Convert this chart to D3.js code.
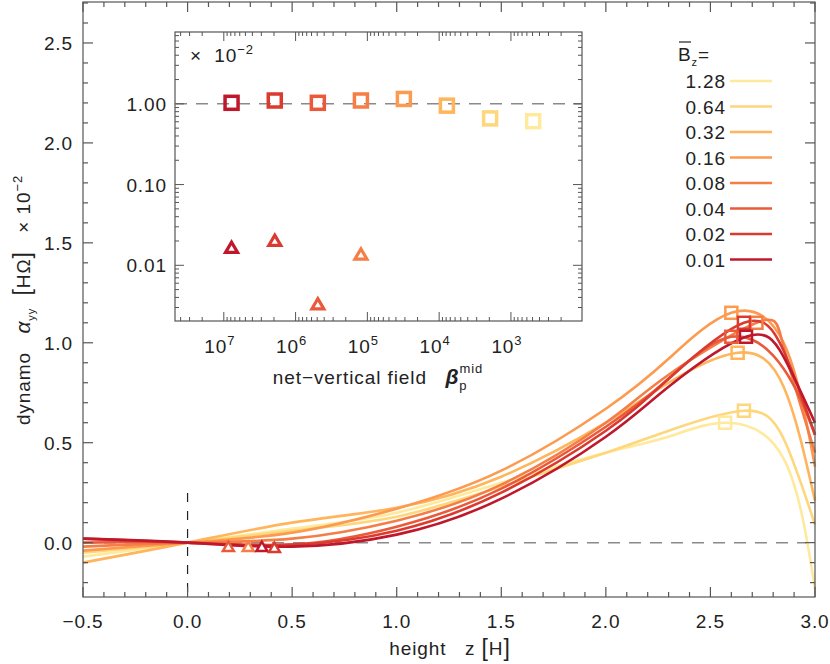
<!DOCTYPE html>
<html lang="en">
<head>
<meta charset="UTF-8">
<title>dynamo alpha</title>
<script src="https://d3js.org/d3.v7.min.js"></script>
<style>
  body { margin: 0; background: #fff; }
  text { font-family: "Liberation Sans", "DejaVu Sans", sans-serif; fill: #222; letter-spacing: 0.9px; }
</style>
</head>
<body>
<svg width="830" height="664"></svg>
<script>
// field strengths, colours
const fields = ["1.28", "0.64", "0.32", "0.16", "0.08", "0.04", "0.02", "0.01"];
const colors = ["#ffe99c", "#fed67c", "#feb55c", "#fc9b50", "#f57d46", "#ea5a3a", "#db3a2f", "#bf182c"];

// sampled heights and alpha values (x 10^-2) for each curve
const zs = [-0.5, 0, 0.5, 1.0, 1.5, 2.0, 2.3, null, 2.85, 3.0];
const peakZ = [2.57, 2.66, 2.63, 2.60, 2.72, 2.60, 2.66, 2.67];
const curves = [
  [-0.07, 0, 0.07, 0.15, 0.30, 0.45, 0.53, 0.60, 0.42, -0.23],
  [-0.05, 0, 0.06, 0.13, 0.28, 0.45, 0.56, 0.66, 0.52, 0.09],
  [-0.10, 0, 0.10, 0.175, 0.33, 0.60, 0.80, 0.95, 0.78, 0.21],
  [-0.04, 0, 0.05, 0.17, 0.36, 0.67, 0.92, 1.15, 1.00, 0.38],
  [-0.02, 0, 0.02, 0.11, 0.29, 0.60, 0.84, 1.10, 0.98, 0.45],
  [0.00, 0, -0.01, 0.08, 0.27, 0.58, 0.82, 1.03, 0.87, 0.54],
  [0.02, 0, -0.01, 0.06, 0.25, 0.56, 0.82, 1.10, 0.96, 0.54],
  [0.02, 0, -0.02, 0.04, 0.22, 0.53, 0.78, 1.03, 0.93, 0.60]
];
// triangles near the origin: [z, alpha, field index]
const triangles = [[0.195, -0.02, 5], [0.29, -0.02, 4], [0.355, -0.02, 7], [0.415, -0.025, 6]];

// inset: beta_p^mid, peak alpha (squares), triangle alpha
const betas = [7.8e6, 1.95e6, 4.9e5, 1.23e5, 3.1e4, 7.8e3, 1.95e3, 4.9e2];
const sqVals = [1.03, 1.10, 1.03, 1.10, 1.15, 0.95, 0.66, 0.61]; // index: 0.01 ... 1.28
const triVals = [0.0166, 0.0202, 0.0033, 0.0137];

const svg = d3.select("svg");
const L = 83, R = 815, T = 2, B = 597;
const x = d3.scaleLinear().domain([-0.5, 3.0]).range([L, R]);
const y = d3.scaleLinear().domain([-0.272, 2.705]).range([B, T]);

// reference lines
svg.append("line").attr("x1", L).attr("x2", R).attr("y1", y(0)).attr("y2", y(0))
  .attr("stroke", "#8a8a8a").attr("stroke-width", 1.5).attr("stroke-dasharray", "12,9");
svg.append("line").attr("x1", x(0)).attr("x2", x(0)).attr("y1", 493).attr("y2", B)
  .attr("stroke", "#222").attr("stroke-width", 1.2).attr("stroke-dasharray", "9,9");

// curves
const line = d3.line().x(d => x(d[0])).y(d => y(d[1])).curve(d3.curveNatural);
curves.forEach((c, i) => {
  const pts = c.map((v, k) => [zs[k] === null ? peakZ[i] : zs[k], v]);
  svg.append("path").attr("d", line(pts)).attr("fill", "none")
    .attr("stroke", colors[i]).attr("stroke-width", 2.6);
});
curves.forEach((c, i) => {
  svg.append("rect").attr("x", x(peakZ[i]) - 6).attr("y", y(c[7]) - 6)
    .attr("width", 12).attr("height", 12).attr("fill", "none")
    .attr("stroke", colors[i]).attr("stroke-width", 2.5);
});
const triPath = (cx, cy, s) => `M${cx - s},${cy + s * 0.8}L${cx},${cy - s * 0.9}L${cx + s},${cy + s * 0.8}Z`;
triangles.forEach(t => {
  svg.append("path").attr("d", triPath(x(t[0]), y(t[1]), 5.5)).attr("fill", "#fff")
    .attr("stroke", colors[t[2]]).attr("stroke-width", 2.5).attr("stroke-linejoin", "miter");
});

// main frame and ticks
const ax = svg.append("g").attr("stroke", "#555").attr("stroke-width", 1.2);
ax.append("rect").attr("x", L).attr("y", T).attr("width", R - L).attr("height", B - T).attr("fill", "none");
d3.range(-0.5, 3.0001, 0.1).forEach(v => {
  const major = Math.abs(v * 2 - Math.round(v * 2)) < 1e-6;
  const len = major ? 10 : 5;
  ax.append("line").attr("x1", x(v)).attr("x2", x(v)).attr("y1", B).attr("y2", B - len);
  ax.append("line").attr("x1", x(v)).attr("x2", x(v)).attr("y1", T).attr("y2", T + len);
});
d3.range(-0.2, 2.7, 0.1).forEach(v => {
  const major = Math.abs(v * 2 - Math.round(v * 2)) < 1e-6;
  const len = major ? 10 : 5;
  ax.append("line").attr("y1", y(v)).attr("y2", y(v)).attr("x1", L).attr("x2", L + len);
  ax.append("line").attr("y1", y(v)).attr("y2", y(v)).attr("x1", R).attr("x2", R - len);
});
d3.range(-0.5, 3.0001, 0.5).forEach(v => {
  svg.append("text").attr("x", x(v)).attr("y", 628).attr("text-anchor", "middle")
    .attr("font-size", 19).text(d3.format(".1f")(v).replace("-", "\u2212"));
});
d3.range(0, 2.51, 0.5).forEach(v => {
  svg.append("text").attr("x", L - 10).attr("y", y(v) + 7).attr("text-anchor", "end")
    .attr("font-size", 19).text(d3.format(".1f")(v));
});
svg.append("text").attr("x", 450).attr("y", 655).attr("text-anchor", "middle").attr("font-size", 19)
  .html('height&#160;&#160; z <tspan font-size="23" dy="1">[</tspan><tspan dy="-1">H</tspan><tspan font-size="23" dy="1">]</tspan>');
svg.append("text").attr("transform", "translate(30,300) rotate(-90)").attr("text-anchor", "middle")
  .attr("font-size", 19)
  .html('dynamo&#160;&#160; <tspan font-style="italic" font-size="21">&#945;</tspan><tspan font-size="11" dy="5">yy</tspan><tspan dy="-5">&#160;&#160;<tspan font-size="23">[</tspan>H&#937;<tspan font-size="23">]</tspan>&#160;&#160; &#215; 10</tspan><tspan font-size="13" dy="-8">&#8722;2</tspan>');

// legend
svg.append("text").attr("x", 678).attr("y", 61).attr("font-size", 19)
  .html('B<tspan font-size="11" dy="5">z</tspan><tspan dy="-5">=</tspan>');
svg.append("line").attr("x1", 679).attr("x2", 691).attr("y1", 42).attr("y2", 42).attr("stroke", "#333").attr("stroke-width", 1.3);
fields.forEach((f, i) => {
  const yy = 81 + i * 25.5;
  svg.append("text").attr("x", 726).attr("y", yy + 7).attr("text-anchor", "end").attr("font-size", 19).text(f);
  svg.append("line").attr("x1", 730).attr("x2", 772).attr("y1", yy).attr("y2", yy)
    .attr("stroke", colors[i]).attr("stroke-width", 2.6);
});

// inset
const iL = 175, iR = 582, iT = 32, iB = 321;
const ix = d3.scaleLog().domain([10 ** 7.68, 10 ** 2.01]).range([iL, iR]);
const iy = d3.scaleLog().domain([10 ** -2.69, 10 ** 0.89]).range([iB, iT]);
const ig = svg.append("g");
ig.append("rect").attr("x", iL).attr("y", iT).attr("width", iR - iL).attr("height", iB - iT)
  .attr("fill", "#fff").attr("stroke", "#555").attr("stroke-width", 1.2);
ig.append("line").attr("x1", iL).attr("x2", iR).attr("y1", iy(1)).attr("y2", iy(1))
  .attr("stroke", "#8a8a8a").attr("stroke-width", 1.5).attr("stroke-dasharray", "12,9");
const it = ig.append("g").attr("stroke", "#555").attr("stroke-width", 1);
for (let e = 2; e <= 7; e++) for (let m = 1; m <= 9; m++) {
  const v = m * 10 ** e;
  if (v > ix.domain()[0] || v < ix.domain()[1]) continue;
  const len = m === 1 ? 9 : 4;
  it.append("line").attr("x1", ix(v)).attr("x2", ix(v)).attr("y1", iB).attr("y2", iB - len);
  it.append("line").attr("x1", ix(v)).attr("x2", ix(v)).attr("y1", iT).attr("y2", iT + len);
}
for (let e = -3; e <= 0; e++) for (let m = 1; m <= 9; m++) {
  const v = m * 10 ** e;
  if (v < iy.domain()[0] || v > iy.domain()[1]) continue;
  const len = m === 1 ? 9 : 4;
  it.append("line").attr("y1", iy(v)).attr("y2", iy(v)).attr("x1", iL).attr("x2", iL + len);
  it.append("line").attr("y1", iy(v)).attr("y2", iy(v)).attr("x1", iR).attr("x2", iR - len);
}
[["1.00", 1], ["0.10", 0.1], ["0.01", 0.01]].forEach(d => {
  svg.append("text").attr("x", iL - 8).attr("y", iy(d[1]) + 7).attr("text-anchor", "end")
    .attr("font-size", 19).text(d[0]);
});
[7, 6, 5, 4, 3].forEach(e => {
  svg.append("text").attr("x", ix(10 ** e) - 4).attr("y", 353).attr("text-anchor", "middle")
    .attr("font-size", 19).html(`10<tspan font-size="13" dy="-8">${e}</tspan>`);
});
svg.append("text").attr("x", 378).attr("y", 384).attr("text-anchor", "middle").attr("font-size", 19)
  .html('net&#8722;vertical field&#160;&#160; <tspan font-weight="bold" font-style="italic" font-size="21">&#946;</tspan><tspan font-size="13" dy="6">p</tspan><tspan font-size="13" dx="-8" dy="-17">mid</tspan>');
svg.append("text").attr("x", 190).attr("y", 62).attr("font-size", 19)
  .html('&#215;&#160; 10<tspan font-size="13" dy="-8">&#8722;2</tspan>');

// inset markers (index 0 = field 0.01)
const revColors = colors.slice().reverse();
betas.forEach((b, i) => {
  ig.append("rect").attr("x", ix(b) - 6.5).attr("y", iy(sqVals[i]) - 6.5).attr("width", 13).attr("height", 13)
    .attr("fill", "none").attr("stroke", revColors[i]).attr("stroke-width", 3.5);
});
triVals.forEach((v, i) => {
  ig.append("path").attr("d", triPath(ix(betas[i]), iy(v), 6)).attr("fill", "#fff")
    .attr("stroke", revColors[i]).attr("stroke-width", 3.2);
});
</script>
</body>
</html>
